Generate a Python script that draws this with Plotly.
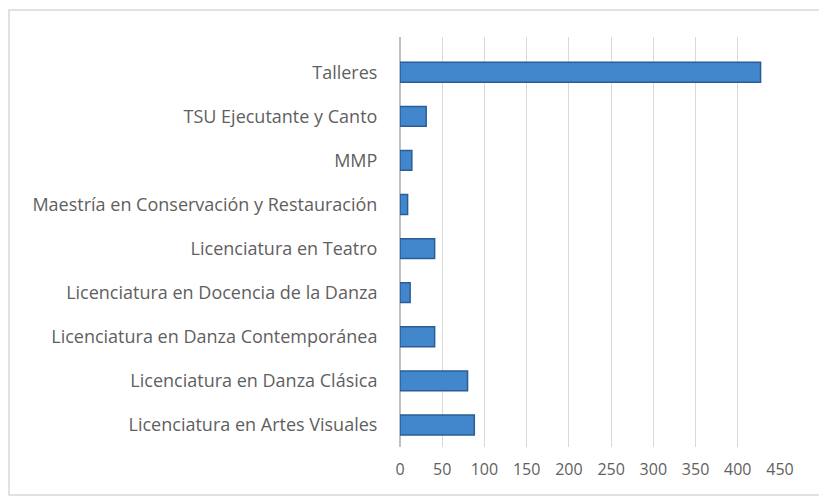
"""Horizontal bar chart: enrolment by programme."""

import plotly.graph_objects as go

# Bottom-to-top order, as in the source sheet
programas = [
    "Licenciatura en Artes Visuales",
    "Licenciatura en Danza Clásica",
    "Licenciatura en Danza Contemporánea",
    "Licenciatura en Docencia de la Danza",
    "Licenciatura en Teatro",
    "Maestría en Conservación y Restauración",
    "MMP",
    "TSU Ejecutante y Canto",
    "Talleres",
]
alumnos = [88, 80, 41, 12, 41, 9, 14, 31, 427]

tick_vals = [0, 50, 100, 150, 200, 250, 300, 350, 400, 450]

fig = go.Figure()
fig.add_trace(
    go.Bar(
        x=alumnos,
        y=programas,
        orientation="h",
        marker=dict(color="#4286cc", line=dict(color="#2a5d96", width=1.5)),
        hoverinfo="x+y",
    )
)

# Light frame round the whole chart area, as in the spreadsheet export
fig.add_shape(
    type="rect", xref="paper", yref="paper",
    x0=-1.029, x1=1.111, y0=-0.117, y1=1.066,
    line=dict(color="#d9d9d9", width=1.5), fillcolor="rgba(0,0,0,0)",
)

fig.update_layout(
    width=827,
    height=499,
    paper_bgcolor="white",
    plot_bgcolor="white",
    showlegend=False,
    bargap=0.55,
    margin=dict(l=392, r=55, t=29, b=60),
    font=dict(family="Open Sans, Liberation Sans, sans-serif", size=17, color="#5f5f5f"),
    xaxis=dict(
        range=[0, 450],
        tickvals=tick_vals,
        showgrid=True,
        gridcolor="#d9d9d9",
        gridwidth=1,
        zeroline=True,
        zerolinecolor="#bfbfbf",
        ticks="outside",
        ticklen=8,
        tickcolor="rgba(0,0,0,0)",
        tickfont=dict(size=16),
    ),
    yaxis=dict(
        categoryorder="array",
        categoryarray=programas,
        range=[-0.5, 8.8],
        showgrid=False,
        ticks="outside",
        ticklen=18,
        tickcolor="rgba(0,0,0,0)",
        tickfont=dict(size=18),
    ),
)

fig.write_html("out.html")
